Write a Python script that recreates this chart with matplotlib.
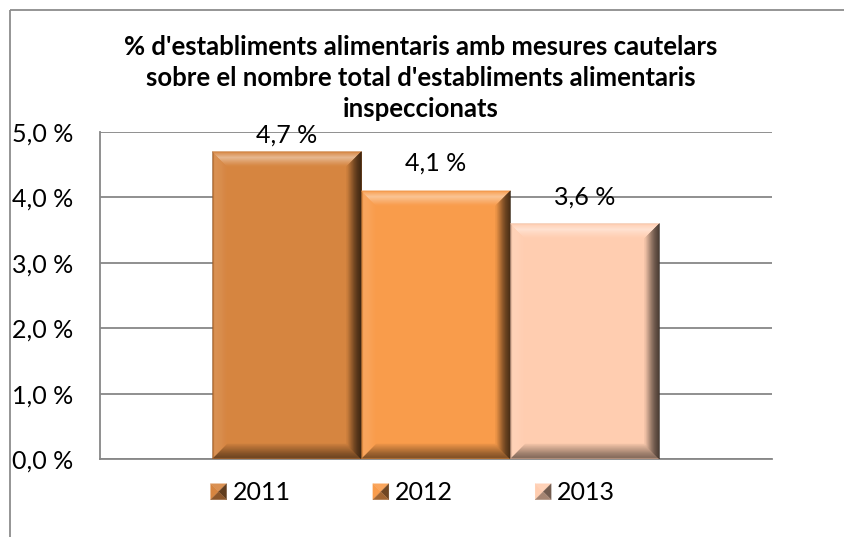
import numpy as np
import matplotlib
matplotlib.use("Agg")
import matplotlib.pyplot as plt
from matplotlib.patches import Polygon, Rectangle
from matplotlib.lines import Line2D
from matplotlib.legend_handler import HandlerBase
from matplotlib.colors import to_rgb

# ---- data ----
title = ("% d'establiments alimentaris amb mesures cautelars\n"
         "sobre el nombre total d'establiments alimentaris\n"
         "inspeccionats")
series = ["2011", "2012", "2013"]
values = [4.7, 4.1, 3.6]
value_labels = ["4,7 %", "4,1 %", "3,6 %"]
yticks = [0.0, 1.0, 2.0, 3.0, 4.0, 5.0]
ytick_labels = ["0,0 %", "1,0 %", "2,0 %", "3,0 %", "4,0 %", "5,0 %"]

# ---- style ----
colors = ["#D68540", "#F99C4B", "#FFCDB0"]
FONT = "Lato"
plt.rcParams['font.family'] = [FONT, 'DejaVu Sans']
FS = 18

W, H = 844, 537
fig = plt.figure(figsize=(W / 100, H / 100), dpi=100)

# outer chart border (only left and top visible, like the reference)
bc = "#8C8C8C"
fig.add_artist(Line2D([9.5 / W, 1.0], [1 - 9.5 / H, 1 - 9.5 / H],
                      transform=fig.transFigure, color=bc, linewidth=1.3,
                      solid_capstyle='butt'))
fig.add_artist(Line2D([9.5 / W, 9.5 / W], [0.0, 1 - 9.5 / H],
                      transform=fig.transFigure, color=bc, linewidth=1.3,
                      solid_capstyle='butt'))

L, R, T, B = 100, 772, 132, 459
ax = fig.add_axes([L / W, 1 - B / H, (R - L) / W, (B - T) / H])
ax.set_xlim(-0.5, 0.5)
ax.set_ylim(0, 5)

bar_w = 0.2217
offsets = (np.arange(len(values)) - (len(values) - 1) / 2) * bar_w

ax.set_yticks(yticks)
ax.set_yticklabels(ytick_labels, fontsize=FS)
ax.tick_params(axis='y', length=0, pad=19)
ax.set_xticks([])
ax.grid(axis='y', color="#878787", linewidth=1.3)
ax.set_axisbelow(True)
for s in ["top", "right"]:
    ax.spines[s].set_visible(False)
for s in ["left", "bottom"]:
    ax.spines[s].set_color("#878787")
    ax.spines[s].set_linewidth(1.3)


def shade(c, f):
    c = np.array(to_rgb(c))
    if f >= 0:
        return tuple(c + (1 - c) * f)
    return tuple(c * (1 + f))


def grad(stops, t):
    ts = [s[0] for s in stops]
    fs = [s[1] for s in stops]
    return float(np.interp(t, ts, fs))


face_stops = {
    "top": [(0, -0.12), (0.12, 0.15), (0.4, 0.45), (0.7, 0.2), (1, 0.0)],
    "bottom": [(0, -0.1), (0.1, -0.5), (0.4, -0.4), (1, -0.05)],
    "left": [(0, -0.4), (0.15, 0.12), (0.5, 0.08), (1, 0.0)],
    "right": [(0, -0.8), (0.3, -0.62), (0.7, -0.3), (1, -0.03)],
}

px_x = (ax.get_xlim()[1] - ax.get_xlim()[0]) / (R - L)
px_y = (ax.get_ylim()[1] - ax.get_ylim()[0]) / (B - T)
bev = 15
bx, by = bev * px_x, bev * px_y

bars = ax.bar(offsets, values, width=bar_w, color=colors, zorder=2,
              linewidth=0)

nstr = 16
for rect, col in zip(bars, colors):
    x0, y0 = rect.get_x(), rect.get_y()
    x1, y1 = x0 + rect.get_width(), y0 + rect.get_height()
    outer = {
        "top": ((x0, y1), (x1, y1)),
        "bottom": ((x0, y0), (x1, y0)),
        "left": ((x0, y0), (x0, y1)),
        "right": ((x1, y0), (x1, y1)),
    }
    inner = {
        "top": ((x0 + bx, y1 - by), (x1 - bx, y1 - by)),
        "bottom": ((x0 + bx, y0 + by), (x1 - bx, y0 + by)),
        "left": ((x0 + bx, y0 + by), (x0 + bx, y1 - by)),
        "right": ((x1 - bx, y0 + by), (x1 - bx, y1 - by)),
    }
    for face in ["left", "bottom", "top", "right"]:
        (oa, ob), (ia, ib) = outer[face], inner[face]
        oa, ob, ia, ib = map(np.array, (oa, ob, ia, ib))
        for k in range(nstr):
            t0, t1 = k / nstr, (k + 1) / nstr
            pa0, pb0 = oa + (ia - oa) * t0, ob + (ib - ob) * t0
            pa1, pb1 = oa + (ia - oa) * t1, ob + (ib - ob) * t1
            c = shade(col, grad(face_stops[face], (t0 + t1) / 2))
            ax.add_patch(Polygon([pa0, pb0, pb1, pa1], closed=True,
                                 facecolor=c, edgecolor=c, linewidth=0.3,
                                 zorder=3))

# data labels
label_off_px = [17, 28, 26]
for xo, v, lab, op in zip(offsets, values, value_labels, label_off_px):
    ax.text(xo, v + op * px_y, lab, ha='center', va='center',
            fontsize=FS, color="black", zorder=5, clip_on=False)

# title
fig.text(421 / W, 1 - 78 / H, title, ha='center', va='center',
         fontsize=18.5, fontweight='bold', linespacing=1.36)


class BevelHandler(HandlerBase):
    def __init__(self, color):
        super().__init__()
        self.color = color

    def create_artists(self, legend, orig_handle, xdescent, ydescent,
                       width, height, fontsize, trans):
        s = min(width, height)
        cx = -xdescent + width / 2
        cy = -ydescent + height / 2
        xa, xb, ya, yb = cx - s / 2, cx + s / 2, cy - s / 2, cy + s / 2
        c = (cx, cy)
        tris = [
            ([(xa, yb), (xb, yb), c], shade(self.color, 0.1)),
            ([(xa, ya), (xa, yb), c], shade(self.color, 0.0)),
            ([(xb, ya), (xb, yb), c], shade(self.color, -0.55)),
            ([(xa, ya), (xb, ya), c], shade(self.color, -0.35)),
        ]
        arts = []
        for pts, col in tris:
            p = Polygon(pts, closed=True, facecolor=col, edgecolor=col,
                        linewidth=0.2, transform=trans)
            arts.append(p)
        return arts


handles = [Rectangle((0, 0), 1, 1, color=c) for c in colors]
hmap = {h: BevelHandler(c) for h, c in zip(handles, colors)}
fig.legend(handles, series, handler_map=hmap, loc='center',
           bbox_to_anchor=(413 / W, 1 - 493 / H), ncol=3, frameon=False,
           fontsize=FS, handlelength=0.64, handleheight=0.64,
           handletextpad=0.25, columnspacing=3.28, borderpad=0)

fig.savefig("out.png", dpi=100)
